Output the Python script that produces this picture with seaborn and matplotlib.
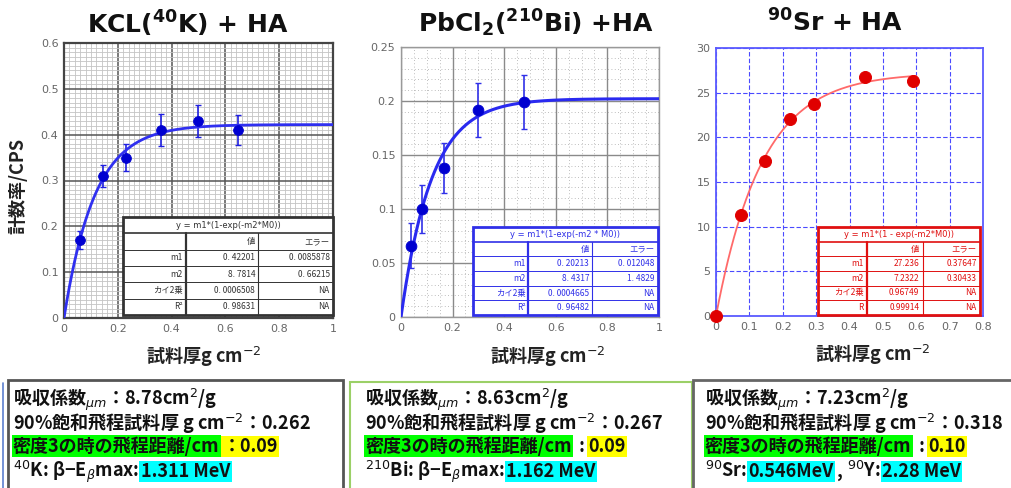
import numpy as np
import matplotlib
matplotlib.use("Agg")
import matplotlib.pyplot as plt
import seaborn as sns
from matplotlib.patches import Rectangle
from matplotlib.lines import Line2D
from matplotlib.ticker import MultipleLocator

sns.set_theme(style="white")
plt.rcParams["font.family"] = ["DejaVu Sans", "Noto Sans CJK JP"]
plt.rcParams["mathtext.fontset"] = "dejavusans"
JP = ["Noto Sans CJK JP", "DejaVu Sans"]

W, H = 1012, 488

# ── data ─────────────────────────────────────────────
kcl_x = [0.060, 0.145, 0.232, 0.360, 0.500, 0.647]
kcl_y = [0.170, 0.310, 0.350, 0.410, 0.430, 0.410]
kcl_err = [0.020, 0.024, 0.030, 0.035, 0.035, 0.033]
kcl_m1, kcl_m2 = 0.42201, 8.7814
kcl_rows = [["", "値", "エラー"],
            ["m1", "0. 42201", "0. 0085878"],
            ["m2", "8. 7814", "0. 66215"],
            ["カイ2乗", "0. 0006508", "NA"],
            ["R²", "0. 98631", "NA"]]

pb_x = [0.040, 0.080, 0.165, 0.300, 0.475]
pb_y = [0.066, 0.100, 0.138, 0.192, 0.199]
pb_err = [0.021, 0.022, 0.023, 0.025, 0.025]
pb_m1, pb_m2 = 0.20213, 8.4317
pb_rows = [["", "値", "エラー"],
           ["m1", "0. 20213", "0. 012048"],
           ["m2", "8. 4317", "1. 4829"],
           ["カイ2乗", "0. 0004665", "NA"],
           ["R²", "0. 96482", "NA"]]

sr_x = [0.000, 0.075, 0.148, 0.222, 0.295, 0.445, 0.590]
sr_y = [0.0, 11.3, 17.4, 22.0, 23.7, 26.8, 26.3]
sr_m1, sr_m2 = 27.236, 7.2322
sr_rows = [["", "値", "エラー"],
           ["m1", "27.236", "0.37647"],
           ["m2", "7.2322", "0.30433"],
           ["カイ2乗", "0.96749", "NA"],
           ["R", "0.99914", "NA"]]

xt_1 = [0, 0.2, 0.4, 0.6, 0.8, 1.0]
xt_1_lab = ["0", "0.2", "0.4", "0.6", "0.8", "1"]
yt_kcl = [0, 0.1, 0.2, 0.3, 0.4, 0.5, 0.6]
yt_kcl_lab = ["0", "0.1", "0.2", "0.3", "0.4", "0.5", "0.6"]
yt_pb = [0, 0.05, 0.1, 0.15, 0.2, 0.25]
yt_pb_lab = ["0", "0.05", "0.1", "0.15", "0.2", "0.25"]
xt_sr = [0, 0.1, 0.2, 0.3, 0.4, 0.5, 0.6, 0.7, 0.8]
xt_sr_lab = ["0", "0.1", "0.2", "0.3", "0.4", "0.5", "0.6", "0.7", "0.8"]
yt_sr = [0, 5, 10, 15, 20, 25, 30]
yt_sr_lab = ["0", "5", "10", "15", "20", "25", "30"]

GREEN, YELLOW, CYAN = "#00ff00", "#ffff00", "#00ffff"
info_1 = [
    [("吸収係数$_{\\mu m}$：8.78cm$^2$/g", None)],
    [("90%飽和飛程試料厚 g cm$^{-2}$：0.262", None)],
    [("密度3の時の飛程距離/cm", GREEN), ("：0.09", YELLOW)],
    [("$^{40}$K: β−E$_{\\beta}$max: ", None), ("1.311 MeV", CYAN)],
]
info_2 = [
    [("吸収係数$_{\\mu m}$：8.63cm$^2$/g", None)],
    [("90%飽和飛程試料厚 g cm$^{-2}$：0.267", None)],
    [("密度3の時の飛程距離/cm", GREEN), (" : ", None), ("0.09", YELLOW)],
    [("$^{210}$Bi: β−E$_{\\beta}$max: ", None), ("1.162 MeV", CYAN)],
]
info_3 = [
    [("吸収係数$_{\\mu m}$：7.23cm$^2$/g", None)],
    [("90%飽和飛程試料厚 g cm$^{-2}$：0.318", None)],
    [("密度3の時の飛程距離/cm", GREEN), (" : ", None), ("0.10", YELLOW)],
    [("$^{90}$Sr: ", None), ("0.546MeV", CYAN), (", ", None),
     ("$^{90}$Y: ", None), ("2.28 MeV", CYAN)],
]


def fx(px):
    return px / W


def fy(py):
    return 1 - py / H


def draw_table(ax, box, color, formula, rows, fs=6):
    x0, y0, x1, y1 = box
    w, h = x1 - x0, y1 - y0
    n = len(rows) + 1
    rh = h / n
    ax.add_patch(Rectangle((x0, y0), w, h, transform=ax.transAxes, fc="white",
                           ec=color, lw=2, zorder=6, clip_on=False))
    for i in range(1, n):
        yy = y1 - i * rh
        ax.plot([x0, x1], [yy, yy], transform=ax.transAxes, color=color,
                lw=1.2 if i == 1 else 0.7, zorder=7, clip_on=False)
    c1, c2 = x0 + 0.30 * w, x0 + 0.645 * w
    for c, lw in ((c1, 1.6), (c2, 0.8)):
        ax.plot([c, c], [y0, y1 - rh], transform=ax.transAxes, color=color,
                lw=lw, zorder=7, clip_on=False)
    ax.text((x0 + x1) / 2, y1 - rh / 2, formula, transform=ax.transAxes,
            ha="center", va="center", fontsize=fs, color=color, zorder=8)
    for i, row in enumerate(rows):
        yc = y1 - (i + 1.5) * rh
        for txt, xr in zip(row, (c1, c2, x1)):
            ax.text(xr - 0.012, yc, txt, transform=ax.transAxes, ha="right",
                    va="center", fontsize=fs, color=color, family=JP, zorder=8)


def style_ticks(ax, xt, xl, yt, yl):
    ax.set_xticks(xt, labels=xl)
    ax.set_yticks(yt, labels=yl)
    ax.tick_params(which="both", length=0, labelsize=8, labelcolor="#666", pad=4)
    ax.set_xlabel("")
    ax.set_ylabel("")


fig = plt.figure(figsize=(W / 100, H / 100), dpi=100)
fig.patch.set_facecolor("white")

# ── panel 1: KCL ────────────────────────────────────
ax1 = fig.add_axes([fx(64), fy(318), fx(269), 275 / H])
xs = np.linspace(0, 1, 300)
ax1.errorbar(kcl_x, kcl_y, yerr=kcl_err, fmt="none", ecolor="#2020e0",
             elinewidth=1.2, capsize=2, zorder=3)
sns.lineplot(x=xs, y=kcl_m1 * (1 - np.exp(-kcl_m2 * xs)), ax=ax1,
             color="#3030f0", lw=2, zorder=4)
sns.scatterplot(x=kcl_x, y=kcl_y, ax=ax1, s=50, color="#0000d0",
                edgecolor="#0000d0", zorder=5)
ax1.set_xlim(0, 1)
ax1.set_ylim(0, 0.6)
style_ticks(ax1, xt_1, xt_1_lab, yt_kcl, yt_kcl_lab)
ax1.xaxis.set_minor_locator(MultipleLocator(0.02))
ax1.yaxis.set_minor_locator(MultipleLocator(0.01))
ax1.set_axisbelow(True)
ax1.grid(which="minor", color="#c4c4c4", lw=0.6)
ax1.grid(which="major", color="#555555", lw=1.1)
for sp in ax1.spines.values():
    sp.set_color("#444444")
    sp.set_linewidth(1.6)
draw_table(ax1, (0.219, 0.011, 1.0, 0.367), "#333333",
           "y = m1*(1-exp(-m2*M0))", kcl_rows)

# ── panel 2: PbCl2 ──────────────────────────────────
ax2 = fig.add_axes([fx(401), fy(317), fx(258), 270 / H])
ax2.errorbar(pb_x, pb_y, yerr=pb_err, fmt="none", ecolor="#3030e8",
             elinewidth=1.2, capsize=2, zorder=3)
sns.lineplot(x=xs, y=pb_m1 * (1 - np.exp(-pb_m2 * xs)), ax=ax2,
             color="#2a2af0", lw=2.2, zorder=4)
sns.scatterplot(x=pb_x, y=pb_y, ax=ax2, s=60, color="#0000d0",
                edgecolor="#0000d0", zorder=5)
ax2.set_xlim(0, 1)
ax2.set_ylim(0, 0.25)
style_ticks(ax2, xt_1, xt_1_lab, yt_pb, yt_pb_lab)
ax2.xaxis.set_minor_locator(MultipleLocator(0.05))
ax2.yaxis.set_minor_locator(MultipleLocator(0.01))
ax2.set_axisbelow(True)
ax2.grid(which="minor", color="#a8a8a8", lw=0.6, ls=(0, (1, 3)))
ax2.grid(which="major", color="#8a8a8a", lw=1.0)
for sp in ax2.spines.values():
    sp.set_color("#999999")
    sp.set_linewidth(1.0)
draw_table(ax2, (0.279, 0.007, 0.996, 0.333), "#3030e8",
           "y = m1*(1-exp(-m2 * M0))", pb_rows)

# ── panel 3: Sr ─────────────────────────────────────
ax3 = fig.add_axes([fx(716), fy(316), fx(267), 268 / H])
xs3 = np.linspace(0, 0.6, 200)
sns.lineplot(x=xs3, y=sr_m1 * (1 - np.exp(-sr_m2 * xs3)), ax=ax3,
             color="#ff6a6a", lw=1.3, zorder=4)
sns.scatterplot(x=sr_x, y=sr_y, ax=ax3, s=75, color="#e00000",
                edgecolor="#e00000", zorder=5, clip_on=False)
ax3.set_xlim(0, 0.8)
ax3.set_ylim(0, 30)
style_ticks(ax3, xt_sr, xt_sr_lab, yt_sr, yt_sr_lab)
ax3.set_axisbelow(True)
ax3.grid(which="major", color="#4a4aff", lw=0.8, ls=(0, (4, 2)))
for sp in ax3.spines.values():
    sp.set_color("#5a5aff")
    sp.set_linewidth(1.3)
draw_table(ax3, (0.382, 0.004, 0.989, 0.332), "#e01010",
           "y = m1*(1 - exp(-m2*M0))", sr_rows)

# ── titles and axis labels ──────────────────────────
fig.text(fx(188), fy(24), r"KCL(${}^{\mathbf{40}}$K) + HA", ha="center",
         va="center", fontsize=18, fontweight="bold", color="#111")
fig.text(fx(536), fy(23), r"PbCl${}_{\mathbf{2}}$(${}^{\mathbf{210}}$Bi) +HA",
         ha="center", va="center", fontsize=18, fontweight="bold", color="#111")
fig.text(fx(835), fy(23), r"${}^{\mathbf{90}}$Sr + HA", ha="center",
         va="center", fontsize=18, fontweight="bold", color="#111")
fig.text(fx(18), fy(186), "計数率/CPS", rotation=90, ha="center",
         va="center", fontsize=13, fontweight="bold", family=JP, color="#222")
for cx, cy in ((204, 357), (548, 357), (873, 355)):
    fig.text(fx(cx), fy(cy), "試料厚g cm$^{-2}$", ha="center", va="center",
             fontsize=13, fontweight="bold", family=JP, color="#222")

# ── info boxes at the bottom ────────────────────────
fig.add_artist(Rectangle((fx(8), fy(500)), fx(335), 120 / H, transform=fig.transFigure,
                         fc="none", ec="#555555", lw=2))
fig.add_artist(Line2D([fx(3), fx(3)], [fy(383), fy(488)], transform=fig.transFigure,
                      color="#5b7fd0", lw=1.2))
fig.add_artist(Rectangle((fx(350), fy(500)), fx(342), 118 / H, transform=fig.transFigure,
                         fc="none", ec="#9bd067", lw=1.5))
fig.add_artist(Rectangle((fx(693), fy(500)), fx(330), 120 / H, transform=fig.transFigure,
                         fc="none", ec="#666666", lw=2))

renderer = fig.canvas.get_renderer()


def info_block(x0, lines, baselines=(405, 430, 452, 477), fs=13):
    for pieces, base in zip(lines, baselines):
        x = fx(x0)
        for txt, bg in pieces:
            kw = {}
            if bg:
                kw["bbox"] = dict(boxstyle="square,pad=0.08", fc=bg, ec="none")
            t = fig.text(x, fy(base), txt, ha="left", va="baseline", fontsize=fs,
                         fontweight="bold", family=JP, color="#111", **kw)
            ext = t.get_window_extent(renderer)
            x = ext.x1 / fig.bbox.width + (0.003 if bg else 0)


info_block(13, info_1)
info_block(365, info_2)
info_block(705, info_3)

fig.savefig("out.png", dpi=100)
